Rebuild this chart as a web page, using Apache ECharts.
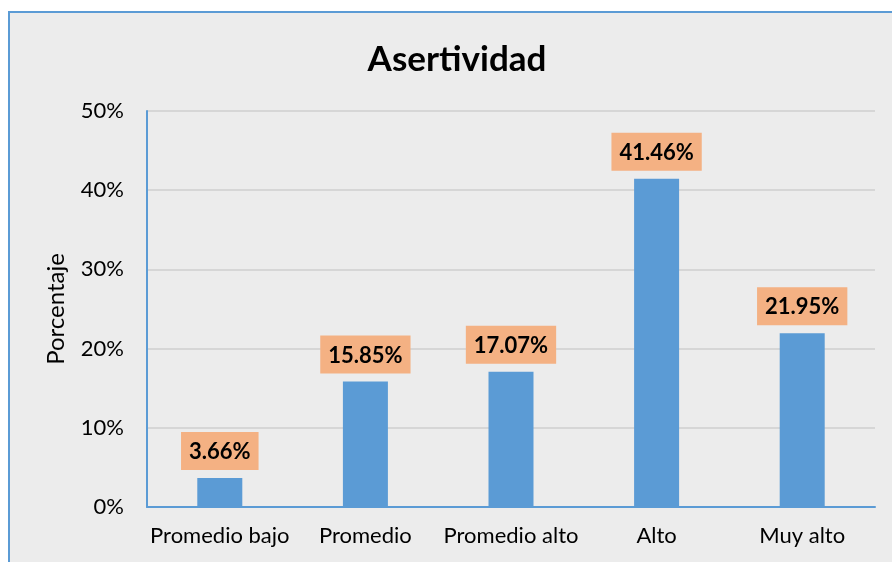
<!DOCTYPE html>
<html>
<head>
<meta charset="utf-8">
<script src="https://cdn.jsdelivr.net/npm/echarts@6/dist/echarts.min.js"></script>
<style>
    body { margin: 0; background: #ffffff; overflow: hidden; }
    #main {
        position: absolute; left: 8px; top: 11px; width: 900px; height: 560px;
        background: #ececec; border-left: 2px solid #5b9bd5; border-top: 2px solid #5b9bd5;
    }
</style>
</head>
<body>
<div id="main"></div>
<script>
var categories = ['Promedio bajo', 'Promedio', 'Promedio alto', 'Alto', 'Muy alto'];
var values = [3.66, 15.85, 17.07, 41.46, 21.95];
var yTicks = [0, 10, 20, 30, 40, 50];

var fontName = 'Lato, "Noto Sans", sans-serif';
var myChart = echarts.init(document.getElementById('main'));
var option = {
    animation : false,
    title : {
        text : 'Asertividad',
        left : 442,
        top : 24,
        textAlign : 'center',
        textStyle : {
            fontFamily : fontName,
            fontSize : 35,
            fontWeight : 'bold',
            color : '#000000'
        }
    },
    grid : {
        left : 137,
        top : 98,
        width : 728,
        height : 396
    },
    xAxis : {
        type : 'category',
        data : categories,
        axisLine : { lineStyle : { color : '#5b9bd5', width : 2 } },
        axisTick : { show : false },
        axisLabel : {
            interval : 0,
            fontFamily : fontName,
            fontSize : 22,
            color : '#000000',
            margin : 18
        }
    },
    yAxis : {
        type : 'value',
        min : yTicks[0],
        max : yTicks[yTicks.length - 1],
        interval : 10,
        name : 'Porcentaje',
        nameLocation : 'middle',
        nameGap : 79,
        nameTextStyle : {
            fontFamily : fontName,
            fontSize : 24,
            color : '#000000'
        },
        axisLine : { show : true, lineStyle : { color : '#5b9bd5', width : 2 } },
        axisTick : { show : false },
        splitLine : { lineStyle : { color : '#d6d6d6', width : 2 } },
        axisLabel : {
            fontFamily : fontName,
            fontSize : 22,
            color : '#000000',
            margin : 23,
            formatter : '{value}%'
        }
    },
    series : [ {
        type : 'bar',
        data : values,
        barWidth : 45,
        itemStyle : { color : '#5b9bd5' },
        label : {
            show : true,
            position : 'top',
            distance : 8,
            formatter : function(p) {
                return p.value.toFixed(2) + '%';
            },
            fontFamily : fontName,
            fontSize : 22,
            fontWeight : 'bold',
            color : '#000000',
            backgroundColor : '#f4b183',
            padding : [ 9, 8, 7, 8 ]
        }
    } ]
};
myChart.setOption(option);
</script>
</body>
</html>
